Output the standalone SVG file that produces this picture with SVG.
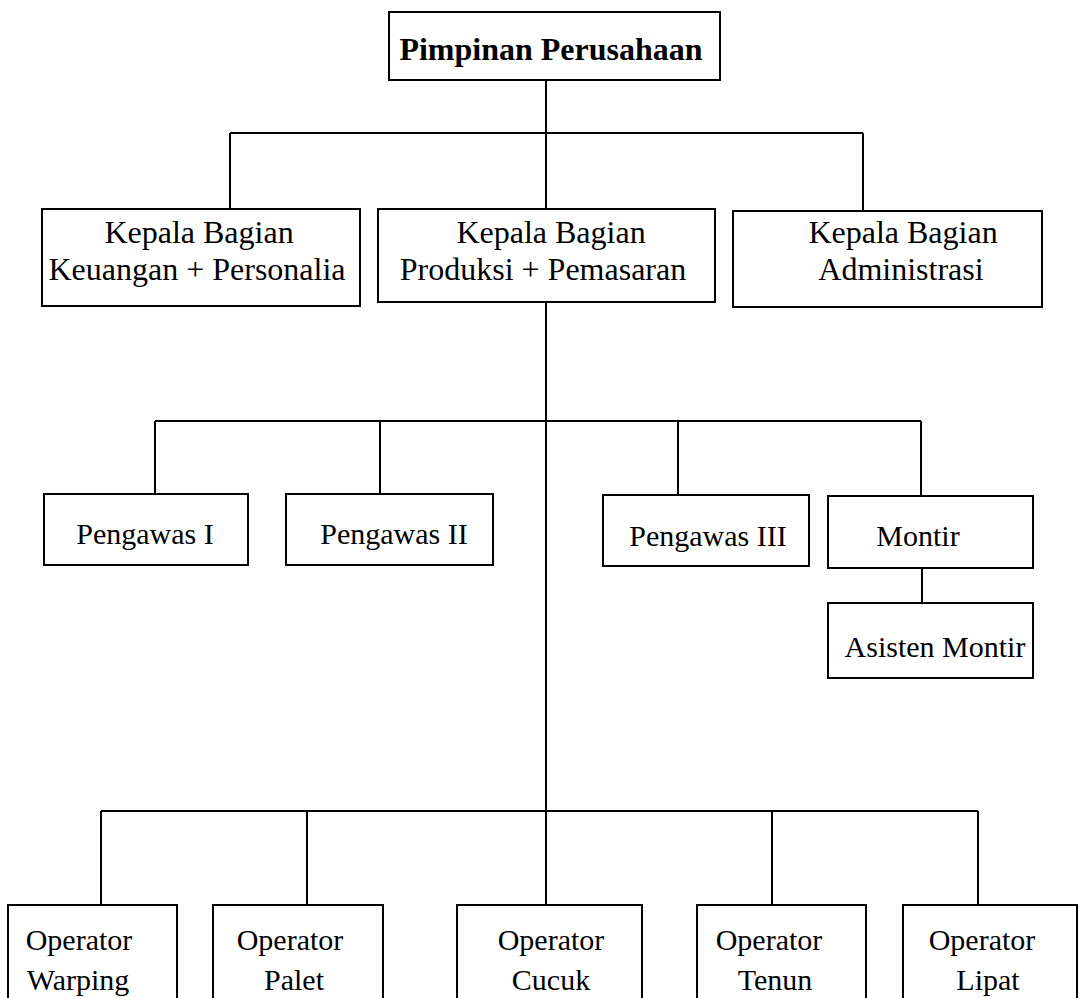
<svg xmlns="http://www.w3.org/2000/svg" width="1084" height="998" viewBox="0 0 1084 998">
<style>
.box{fill:#fff;stroke:#000;stroke-width:2}
.ln{fill:none;stroke:#000;stroke-width:2}
text{font-family:"Liberation Serif","Times New Roman",serif;font-size:30px;fill:#000;text-anchor:middle}
.b{font-weight:bold;font-size:32px}
.k{font-size:32px}
</style>
<rect width="1084" height="998" fill="#fff"/>
<g id="connectors" class="ln">
<path d="M546 80V209M230 133H863M230 133V209M863 133V211"/>
<path d="M546 302V905"/>
<path d="M155 421H921M155 421V494M380 421V494M678 421V495M921 421V496"/>
<path d="M922 568V603"/>
<path d="M101 811H978M101 811V905M307 811V905M772 811V905M978 811V905"/>
</g>
<g id="pimpinan"><rect class="box" x="389" y="12" width="331" height="68"/><text class="b" x="551" y="60">Pimpinan Perusahaan</text></g>
<g id="keuangan"><rect class="box" x="42" y="209" width="318" height="97"/><text class="k" x="199" y="243">Kepala Bagian</text><text class="k" x="197" y="280">Keuangan + Personalia</text></g>
<g id="produksi"><rect class="box" x="378" y="209" width="337" height="93"/><text class="k" x="551" y="243">Kepala Bagian</text><text class="k" x="543" y="280">Produksi + Pemasaran</text></g>
<g id="administrasi"><rect class="box" x="733" y="211" width="309" height="96"/><text class="k" x="903" y="243">Kepala Bagian</text><text class="k" x="901" y="280">Administrasi</text></g>
<g id="pengawas1"><rect class="box" x="44" y="494" width="204" height="71"/><text x="145" y="544">Pengawas I</text></g>
<g id="pengawas2"><rect class="box" x="286" y="494" width="207" height="71"/><text x="394" y="544">Pengawas II</text></g>
<g id="pengawas3"><rect class="box" x="603" y="495" width="206" height="71"/><text x="708" y="546">Pengawas III</text></g>
<g id="montir"><rect class="box" x="828" y="496" width="205" height="72"/><text x="918" y="546">Montir</text></g>
<g id="asisten"><rect class="box" x="828" y="603" width="205" height="75"/><text x="935" y="657">Asisten Montir</text></g>
<g id="warping"><rect class="box" x="8" y="905" width="169" height="110"/><text x="79" y="950">Operator</text><text x="78" y="990">Warping</text></g>
<g id="palet"><rect class="box" x="213" y="905" width="170" height="110"/><text x="290" y="950">Operator</text><text x="294" y="990">Palet</text></g>
<g id="cucuk"><rect class="box" x="457" y="905" width="185" height="110"/><text x="551" y="950">Operator</text><text x="551" y="990">Cucuk</text></g>
<g id="tenun"><rect class="box" x="697" y="905" width="169" height="110"/><text x="769" y="950">Operator</text><text x="775" y="990">Tenun</text></g>
<g id="lipat"><rect class="box" x="903" y="905" width="174" height="110"/><text x="982" y="950">Operator</text><text x="988" y="990">Lipat</text></g>
</svg>
